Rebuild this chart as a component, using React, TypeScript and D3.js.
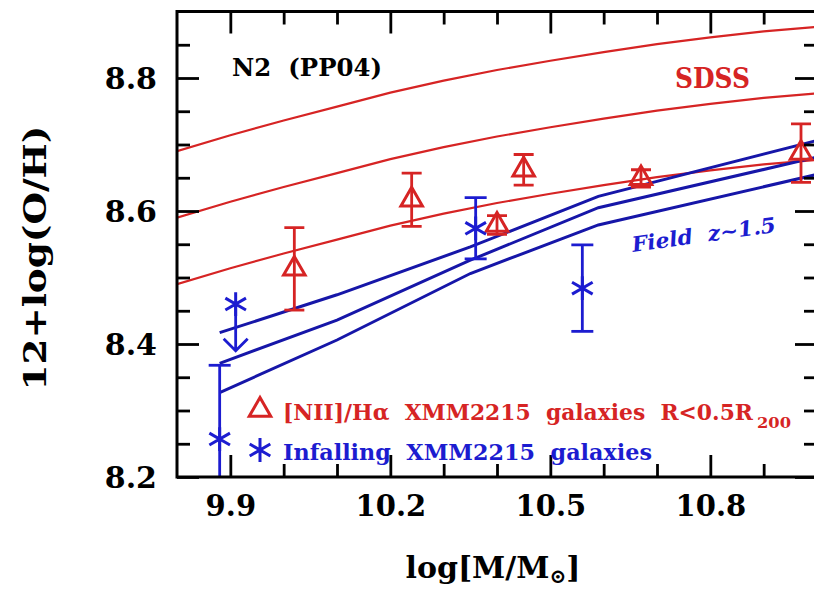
import React, { useEffect, useRef } from 'react';
import * as d3 from 'd3';

// SDSS mass-metallicity relation, drawn as three curves
const sdssMass = [9.8, 9.9, 10.0, 10.1, 10.2, 10.3, 10.4, 10.5, 10.6, 10.7, 10.8, 10.9, 11.0];
const sdssUpper = [8.690, 8.714, 8.736, 8.757, 8.778, 8.796, 8.812, 8.826, 8.839, 8.851, 8.861, 8.870, 8.877];
const sdssMid = [8.590, 8.614, 8.636, 8.657, 8.678, 8.696, 8.712, 8.726, 8.739, 8.751, 8.761, 8.770, 8.777];
const sdssLower = [8.490, 8.514, 8.536, 8.557, 8.578, 8.596, 8.612, 8.626, 8.639, 8.651, 8.661, 8.670, 8.677];

// field galaxies at z~1.5
const fieldMass = [9.88, 10.10, 10.35, 10.59, 11.0];
const fieldUpper = [8.417, 8.474, 8.546, 8.622, 8.706];
const fieldMid = [8.371, 8.436, 8.526, 8.605, 8.681];
const fieldLower = [8.327, 8.406, 8.506, 8.579, 8.655];

// [NII]/Ha XMM2215 galaxies R<0.5R200
const coreMass = [10.02, 10.24, 10.40, 10.45, 10.67, 10.97];
const coreOH = [8.513, 8.617, 8.579, 8.662, 8.649, 8.687];
const coreErr = [0.062, 0.040, 0.014, 0.023, 0.013, 0.044];

// infalling XMM2215 galaxies
const infallMass = [9.88, 10.36, 10.56];
const infallOH = [8.257, 8.574, 8.484];
const infallErr = [0.111, 0.046, 0.065];

// upper limit (star with arrow)
const limitMass = [9.91];
const limitOH = [8.46];
const limitTo = [8.39];

const xMajor = [9.9, 10.2, 10.5, 10.8];
const xMinor = [10.0, 10.1, 10.3, 10.4, 10.6, 10.7, 10.9];
const yMajor = [8.2, 8.4, 8.6, 8.8];
const yMinor = [8.25, 8.3, 8.35, 8.45, 8.5, 8.55, 8.65, 8.7, 8.75, 8.85];

const RED = '#d62424';
const BLUE = '#1c1cd0';
const BLUE_LINE = '#1616a8';
const FONT = '"DejaVu Serif", serif';

const App = () => {
  const ref = useRef<SVGSVGElement>(null);

  useEffect(() => {
    const width = 814;
    const height = 591;
    const left = 177;
    const right = 817;
    const top = 11.5;
    const bottom = 477;

    const x = d3.scaleLinear().domain([9.8, 11.0]).range([left, right]);
    const y = d3.scaleLinear().domain([8.2, 8.9]).range([bottom, top]);

    const svg = d3.select(ref.current);
    svg.selectAll('*').remove();
    svg.attr('width', width).attr('height', height);

    svg.append('rect').attr('width', width).attr('height', height).attr('fill', '#fff');

    svg.append('clipPath').attr('id', 'plot')
      .append('rect')
      .attr('x', left).attr('y', top)
      .attr('width', right - left).attr('height', bottom - top);

    const plot = svg.append('g').attr('clip-path', 'url(#plot)');

    const line = d3.line<[number, number]>()
      .x(d => x(d[0]))
      .y(d => y(d[1]));

    for (const s of [sdssUpper, sdssMid, sdssLower]) {
      plot.append('path')
        .attr('d', line(sdssMass.map((m, i) => [m, s[i]] as [number, number])))
        .attr('fill', 'none')
        .attr('stroke', RED)
        .attr('stroke-width', 2.2);
    }

    for (const s of [fieldUpper, fieldMid, fieldLower]) {
      plot.append('path')
        .attr('d', line(fieldMass.map((m, i) => [m, s[i]] as [number, number])))
        .attr('fill', 'none')
        .attr('stroke', BLUE_LINE)
        .attr('stroke-width', 3);
    }

    const errorBar = (g, cx, lo, hi, color, cap) => {
      g.append('line')
        .attr('x1', cx).attr('x2', cx).attr('y1', lo).attr('y2', hi)
        .attr('stroke', color).attr('stroke-width', 2.8);
      for (const yy of [lo, hi]) {
        g.append('line')
          .attr('x1', cx - cap).attr('x2', cx + cap).attr('y1', yy).attr('y2', yy)
          .attr('stroke', color).attr('stroke-width', 2.8);
      }
    };

    const tri = d3.symbol().type(d3.symbolTriangle).size(200);
    const star = d3.symbol().type(d3.symbolAsterisk).size(400);

    coreMass.forEach((m, i) => {
      errorBar(plot, x(m), y(coreOH[i] - coreErr[i]), y(coreOH[i] + coreErr[i]), RED, 10);
      plot.append('path')
        .attr('d', tri())
        .attr('transform', `translate(${x(m)},${y(coreOH[i])})`)
        .attr('fill', 'none')
        .attr('stroke', RED)
        .attr('stroke-width', 3);
    });

    infallMass.forEach((m, i) => {
      errorBar(plot, x(m), y(infallOH[i] - infallErr[i]), y(infallOH[i] + infallErr[i]), BLUE, 11);
      plot.append('path')
        .attr('d', star())
        .attr('transform', `translate(${x(m)},${y(infallOH[i])})`)
        .attr('fill', 'none')
        .attr('stroke', BLUE)
        .attr('stroke-width', 3);
    });

    limitMass.forEach((m, i) => {
      const cx = x(m);
      const tip = y(limitTo[i]);
      plot.append('path')
        .attr('d', star())
        .attr('transform', `translate(${cx},${y(limitOH[i])})`)
        .attr('fill', 'none').attr('stroke', BLUE).attr('stroke-width', 3);
      plot.append('path')
        .attr('d', `M${cx},${y(limitOH[i])}V${tip}M${cx - 12},${tip - 12}L${cx},${tip}L${cx + 12},${tip - 12}`)
        .attr('fill', 'none').attr('stroke', BLUE).attr('stroke-width', 2.8);
    });

    // axes: ticks inward on all four sides
    const styleAxis = (g, font) => {
      g.select('.domain').remove();
      g.selectAll('line').attr('stroke', '#000').attr('stroke-width', 2.8);
      g.attr('font-family', FONT).attr('font-size', font).attr('font-weight', 'bold');
      g.selectAll('text').attr('fill', '#000');
    };

    svg.append('g').attr('transform', `translate(0,${bottom})`)
      .call(d3.axisBottom(x).tickValues(xMajor).tickSize(-22).tickPadding(18).tickFormat(d3.format('.1f')))
      .call(g => styleAxis(g, 29));
    svg.append('g').attr('transform', `translate(0,${bottom})`)
      .call(d3.axisBottom(x).tickValues(xMinor).tickSize(-13).tickFormat(() => ''))
      .call(g => styleAxis(g, 10));
    svg.append('g').attr('transform', `translate(0,${top})`)
      .call(d3.axisTop(x).tickValues(xMajor).tickSize(-22).tickFormat(() => ''))
      .call(g => styleAxis(g, 10));
    svg.append('g').attr('transform', `translate(0,${top})`)
      .call(d3.axisTop(x).tickValues(xMinor).tickSize(-13).tickFormat(() => ''))
      .call(g => styleAxis(g, 10));

    svg.append('g').attr('transform', `translate(${left},0)`)
      .call(d3.axisLeft(y).tickValues(yMajor).tickSize(-22).tickPadding(20).tickFormat(d3.format('.1f')))
      .call(g => styleAxis(g, 30))
      .call(g => g.selectAll('text').attr('dy', '0.36em'));
    svg.append('g').attr('transform', `translate(${left},0)`)
      .call(d3.axisLeft(y).tickValues(yMinor).tickSize(-13).tickFormat(() => ''))
      .call(g => styleAxis(g, 10));
    svg.append('g').attr('transform', `translate(${right},0)`)
      .call(d3.axisRight(y).tickValues(yMajor).tickSize(-22).tickFormat(() => ''))
      .call(g => styleAxis(g, 10));
    svg.append('g').attr('transform', `translate(${right},0)`)
      .call(d3.axisRight(y).tickValues(yMinor).tickSize(-13).tickFormat(() => ''))
      .call(g => styleAxis(g, 10));

    svg.append('rect')
      .attr('x', left).attr('y', top)
      .attr('width', right - left).attr('height', bottom - top)
      .attr('fill', 'none').attr('stroke', '#000').attr('stroke-width', 3);

    const label = svg.append('g')
      .attr('font-family', FONT)
      .attr('font-weight', 'bold');

    // axis titles
    const xt = label.append('text')
      .attr('x', (left + right) / 2 - 4).attr('y', 578)
      .attr('text-anchor', 'middle')
      .attr('font-size', 30)
      .attr('fill', '#000');
    xt.append('tspan').text('log[M/M');
    xt.append('tspan').attr('font-size', 20).attr('dy', 5).text('⊙');
    xt.append('tspan').attr('dy', -5).text(']');

    label.append('text')
      .attr('transform', `translate(46,258) rotate(-90)`)
      .attr('text-anchor', 'middle')
      .attr('font-size', 32)
      .attr('fill', '#000')
      .attr('textLength', 265).attr('lengthAdjust', 'spacingAndGlyphs')
      .text('12+log(O/H)');

    label.append('text')
      .attr('x', 232).attr('y', 76)
      .attr('font-size', 25)
      .attr('fill', '#000')
      .attr('textLength', 150).attr('lengthAdjust', 'spacingAndGlyphs')
      .attr('xml:space', 'preserve')
      .text('N2  (PP04)');

    label.append('text')
      .attr('x', 675).attr('y', 88)
      .attr('font-size', 27)
      .attr('fill', RED)
      .attr('textLength', 75).attr('lengthAdjust', 'spacingAndGlyphs')
      .text('SDSS');

    label.append('text')
      .attr('transform', 'translate(633,252) rotate(-8)')
      .attr('font-size', 21)
      .attr('font-style', 'italic')
      .attr('fill', BLUE)
      .attr('textLength', 145).attr('lengthAdjust', 'spacingAndGlyphs')
      .attr('xml:space', 'preserve')
      .text('Field  z~1.5');

    // legend
    svg.append('path').attr('d', tri()).attr('transform', 'translate(260,410)')
      .attr('fill', 'none').attr('stroke', RED).attr('stroke-width', 3);
    svg.append('path').attr('d', star()).attr('transform', 'translate(260,450)')
      .attr('fill', 'none').attr('stroke', BLUE).attr('stroke-width', 3);

    label.append('text')
      .attr('x', 283).attr('y', 420)
      .attr('font-size', 23)
      .attr('fill', RED)
      .attr('textLength', 470).attr('lengthAdjust', 'spacingAndGlyphs')
      .attr('xml:space', 'preserve')
      .text('[NII]/Hα  XMM2215  galaxies  R<0.5R');
    label.append('text')
      .attr('x', 757).attr('y', 428)
      .attr('font-size', 15)
      .attr('fill', RED)
      .attr('textLength', 34).attr('lengthAdjust', 'spacingAndGlyphs')
      .text('200');

    label.append('text')
      .attr('x', 283).attr('y', 460)
      .attr('font-size', 23)
      .attr('fill', BLUE)
      .attr('textLength', 369).attr('lengthAdjust', 'spacingAndGlyphs')
      .attr('xml:space', 'preserve')
      .text('Infalling  XMM2215  galaxies');
  }, []);

  return <svg ref={ref} style={{ position: 'absolute', left: 0, top: 0 }} />;
};

export default App;
